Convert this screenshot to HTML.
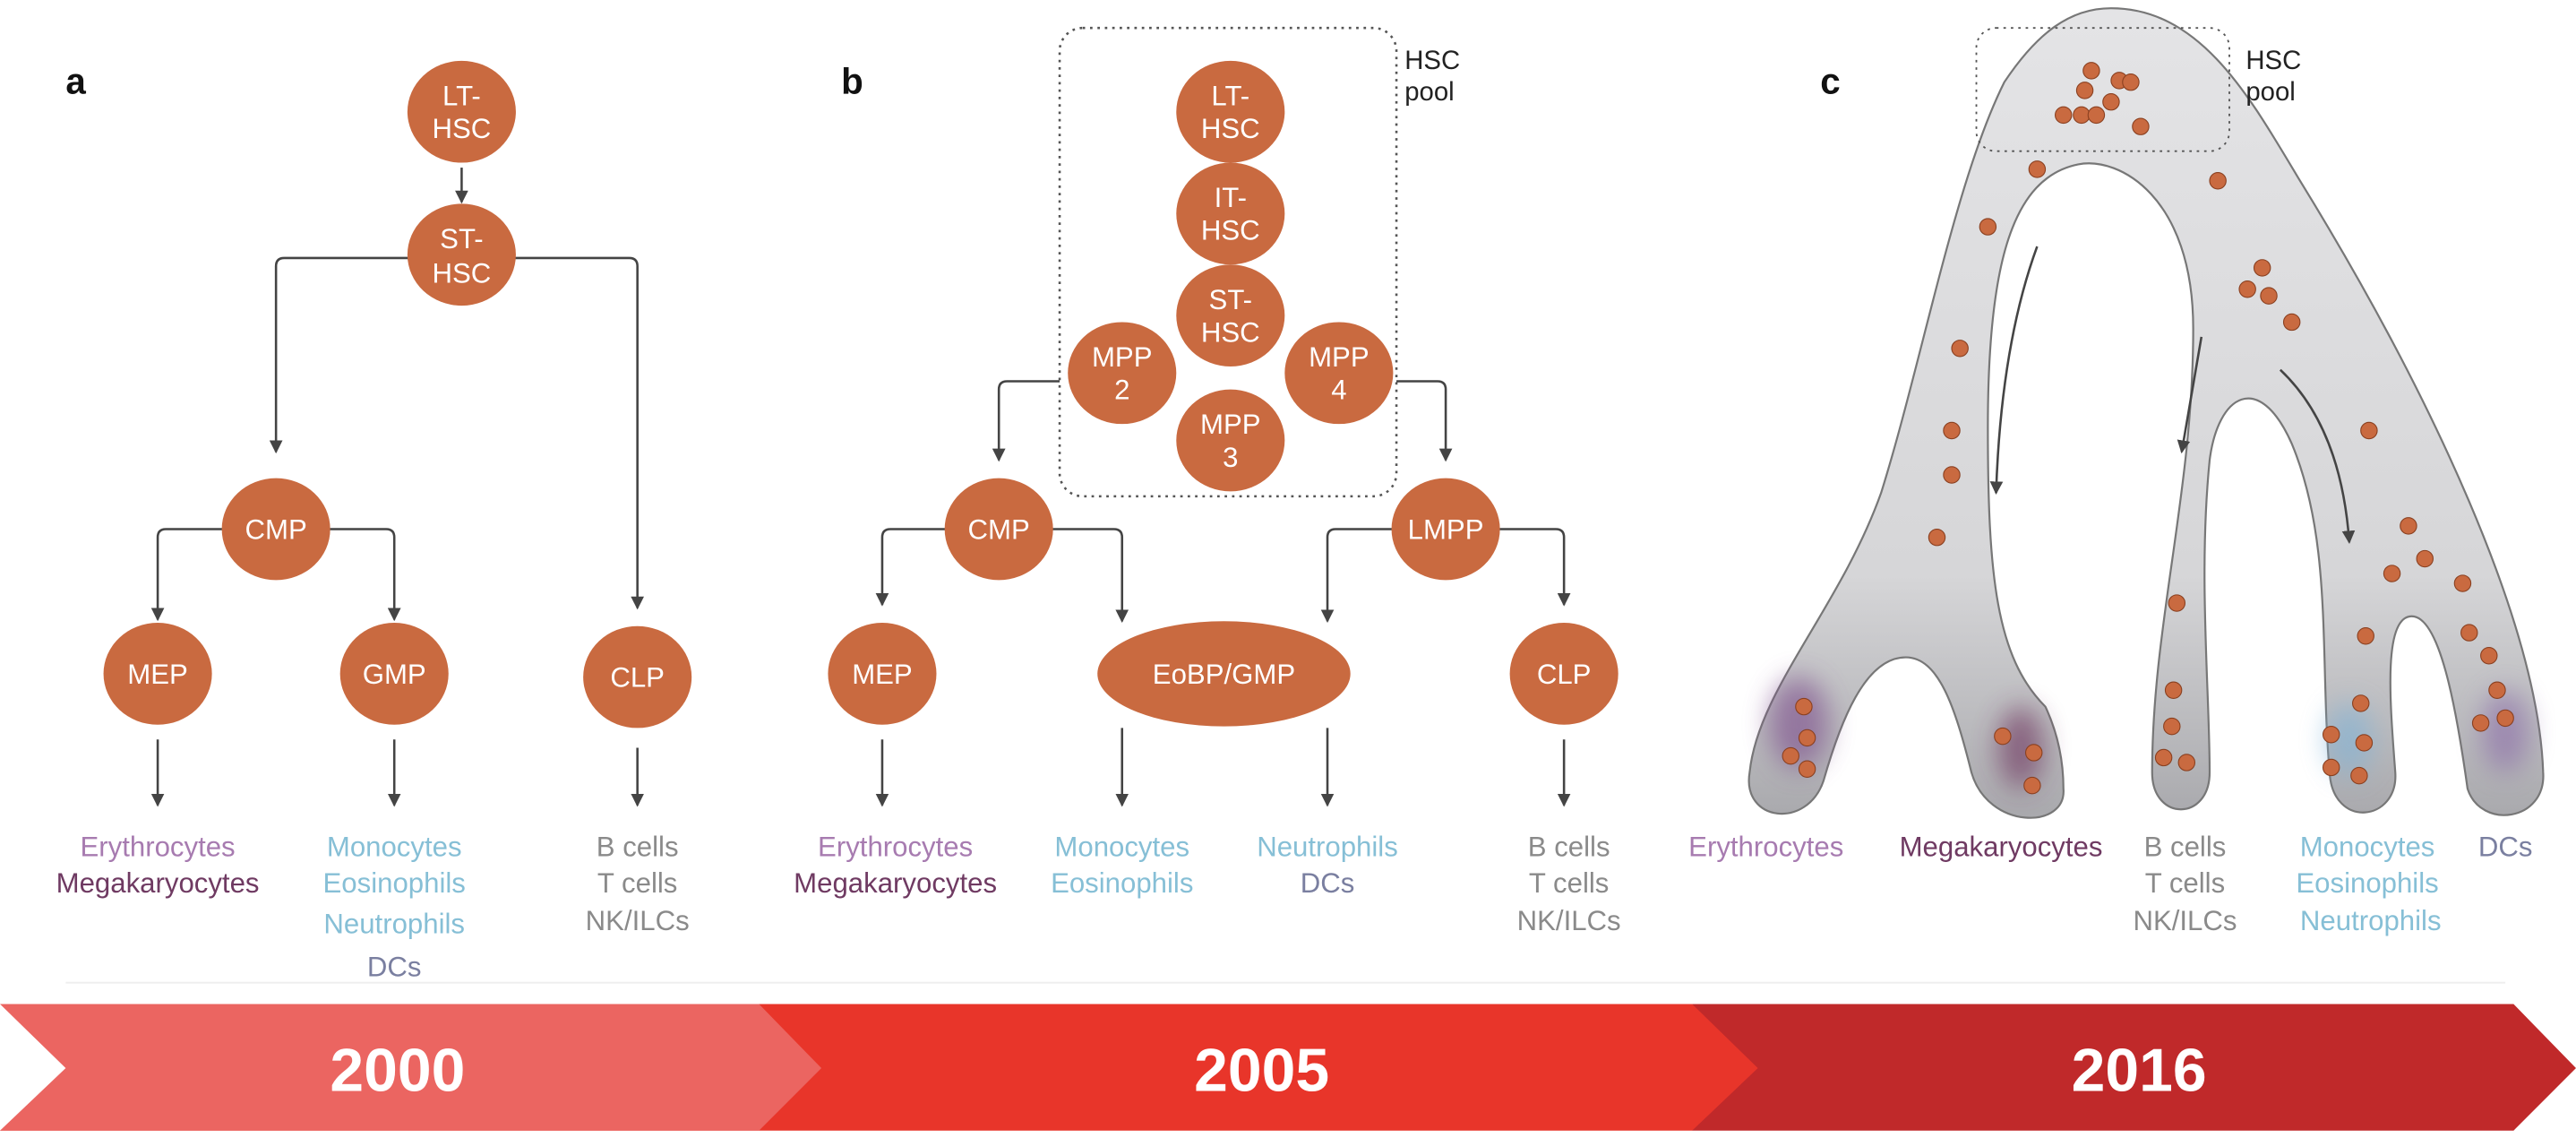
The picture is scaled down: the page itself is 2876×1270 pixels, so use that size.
<!DOCTYPE html>
<html><head><meta charset="utf-8"><style>
html,body{margin:0;padding:0;background:#fff;}
svg{display:block;}
text{font-family:"Liberation Sans",sans-serif;}
</style></head><body>
<svg width="2876" height="1270" viewBox="0 0 1568 692.5" preserveAspectRatio="none" xmlns="http://www.w3.org/2000/svg">
<defs>
<marker id="ah" markerWidth="8" markerHeight="8" refX="7" refY="4" orient="auto" markerUnits="userSpaceOnUse"><path d="M0,0 L8,4 L0,8 Z" fill="#444"/></marker>
<filter id="blur" x="-50%" y="-50%" width="200%" height="200%"><feGaussianBlur stdDeviation="8"/></filter>
<linearGradient id="tg" x1="0" y1="0" x2="0" y2="1"><stop offset="0" stop-color="#e4e4e6"/><stop offset="0.7" stop-color="#d6d6d8"/><stop offset="1" stop-color="#a9a9ad"/></linearGradient>
</defs>
<rect width="1568" height="692.5" fill="#fff"/>
<line x1="40" y1="598" x2="1525" y2="598" stroke="#eee" stroke-width="1"/>

<g fill="none" stroke="#444" stroke-width="1.4">
<line x1="281" y1="102" x2="281" y2="123" marker-end="url(#ah)"/>
<path d="M250,157 H173 Q168,157 168,162 V275" marker-end="url(#ah)"/>
<path d="M312,157 H383 Q388,157 388,162 V370" marker-end="url(#ah)"/>
<path d="M138,322 H101 Q96,322 96,327 V377" marker-end="url(#ah)"/>
<path d="M198,322 H235 Q240,322 240,327 V377" marker-end="url(#ah)"/>
<line x1="96" y1="450" x2="96" y2="490" marker-end="url(#ah)"/>
<line x1="240" y1="450" x2="240" y2="490" marker-end="url(#ah)"/>
<line x1="388" y1="455" x2="388" y2="490" marker-end="url(#ah)"/>
</g>
<g fill="#c96a40">
<ellipse cx="281" cy="68" rx="33" ry="31"/>
<ellipse cx="281" cy="155" rx="33" ry="31"/>
<ellipse cx="168" cy="322" rx="33" ry="31"/>
<ellipse cx="96" cy="410" rx="33" ry="31"/>
<ellipse cx="240" cy="410" rx="33" ry="31"/>
<ellipse cx="388" cy="412" rx="33" ry="31"/>
</g>
<g fill="#fff" font-size="17" text-anchor="middle">
<text x="281" y="64">LT-</text><text x="281" y="84">HSC</text>
<text x="281" y="151">ST-</text><text x="281" y="172">HSC</text>
<text x="168" y="328">CMP</text><text x="96" y="416">MEP</text>
<text x="240" y="416">GMP</text><text x="388" y="418">CLP</text>
</g>
<text x="40" y="57" font-size="22" font-weight="bold" fill="#111">a</text>
<g font-size="17" text-anchor="middle">
<text x="96" y="521" fill="#a77bb0">Erythrocytes</text>
<text x="96" y="543" fill="#6f3a62">Megakaryocytes</text>
<text x="240" y="521" fill="#86bfd6">Monocytes</text>
<text x="240" y="543" fill="#86bfd6">Eosinophils</text>
<text x="240" y="568" fill="#86bfd6">Neutrophils</text>
<text x="240" y="594" fill="#7a7fa0">DCs</text>
<text x="388" y="521" fill="#8a8a8a">B cells</text>
<text x="388" y="543" fill="#8a8a8a">T cells</text>
<text x="388" y="566" fill="#8a8a8a">NK/ILCs</text>
</g>

<g fill="none" stroke="#444" stroke-width="1.4">
<rect x="645" y="17" width="205" height="285" rx="14" stroke="#555" stroke-dasharray="1.5,3"/>
<path d="M645,232 H613 Q608,232 608,237 V280" marker-end="url(#ah)"/>
<path d="M850,232 H875 Q880,232 880,237 V280" marker-end="url(#ah)"/>
<path d="M578,322 H542 Q537,322 537,327 V368" marker-end="url(#ah)"/>
<path d="M638,322 H678 Q683,322 683,327 V378" marker-end="url(#ah)"/>
<path d="M850,322 H813 Q808,322 808,327 V378" marker-end="url(#ah)"/>
<path d="M910,322 H947 Q952,322 952,327 V368" marker-end="url(#ah)"/>
<line x1="537" y1="450" x2="537" y2="490" marker-end="url(#ah)"/>
<line x1="683" y1="443" x2="683" y2="490" marker-end="url(#ah)"/>
<line x1="808" y1="443" x2="808" y2="490" marker-end="url(#ah)"/>
<line x1="952" y1="450" x2="952" y2="490" marker-end="url(#ah)"/>
</g>
<g fill="#c96a40">
<ellipse cx="749" cy="68" rx="33" ry="31"/>
<ellipse cx="749" cy="130" rx="33" ry="31"/>
<ellipse cx="749" cy="192" rx="33" ry="31"/>
<ellipse cx="683" cy="227" rx="33" ry="31"/>
<ellipse cx="815" cy="227" rx="33" ry="31"/>
<ellipse cx="749" cy="268" rx="33" ry="31"/>
<ellipse cx="608" cy="322" rx="33" ry="31"/>
<ellipse cx="880" cy="322" rx="33" ry="31"/>
<ellipse cx="537" cy="410" rx="33" ry="31"/>
<ellipse cx="745" cy="410" rx="77" ry="32"/>
<ellipse cx="952" cy="410" rx="33" ry="31"/>
</g>
<g fill="#fff" font-size="17" text-anchor="middle">
<text x="749" y="64">LT-</text><text x="749" y="84">HSC</text>
<text x="749" y="126">IT-</text><text x="749" y="146">HSC</text>
<text x="749" y="188">ST-</text><text x="749" y="208">HSC</text>
<text x="683" y="223">MPP</text><text x="683" y="243">2</text>
<text x="815" y="223">MPP</text><text x="815" y="243">4</text>
<text x="749" y="264">MPP</text><text x="749" y="284">3</text>
<text x="608" y="328">CMP</text><text x="880" y="328">LMPP</text>
<text x="537" y="416">MEP</text><text x="745" y="416">EoBP/GMP</text><text x="952" y="416">CLP</text>
</g>
<text x="512" y="57" font-size="22" font-weight="bold" fill="#111">b</text>
<text x="855" y="42" font-size="16" fill="#222">HSC</text>
<text x="855" y="61" font-size="16" fill="#222">pool</text>
<g font-size="17" text-anchor="middle">
<text x="545" y="521" fill="#a77bb0">Erythrocytes</text>
<text x="545" y="543" fill="#6f3a62">Megakaryocytes</text>
<text x="683" y="521" fill="#86bfd6">Monocytes</text>
<text x="683" y="543" fill="#86bfd6">Eosinophils</text>
<text x="808" y="521" fill="#86bfd6">Neutrophils</text>
<text x="808" y="543" fill="#7a7fa0">DCs</text>
<text x="955" y="521" fill="#8a8a8a">B cells</text>
<text x="955" y="543" fill="#8a8a8a">T cells</text>
<text x="955" y="566" fill="#8a8a8a">NK/ILCs</text>
</g>

<g>
<path fill="url(#tg)" stroke="#777" stroke-width="1.2" d="M1285,5 C1340,5 1370,60 1400,110 C1480,240 1545,380 1548,470 C1550,500 1510,505 1502,480 C1495,430 1485,375 1468,375 C1450,375 1455,430 1458,470 C1460,500 1420,505 1418,470 C1412,400 1420,330 1395,270 C1375,225 1350,240 1345,280 C1338,350 1345,420 1345,470 C1345,500 1310,500 1310,470 C1310,380 1335,300 1335,200 C1335,120 1290,95 1265,100 C1225,108 1210,160 1210,260 C1210,350 1215,400 1245,430 C1252,445 1256,462 1256,480 C1258,505 1210,505 1200,470 C1190,430 1180,400 1160,400 C1135,400 1120,440 1110,475 C1100,505 1060,500 1065,470 C1070,420 1120,370 1145,300 C1170,220 1190,110 1220,50 C1240,20 1260,5 1285,5 Z"/>
<g filter="url(#blur)" opacity="0.6">
<ellipse cx="1095" cy="440" rx="18" ry="28" fill="#7a4a8a"/>
<ellipse cx="1230" cy="455" rx="14" ry="25" fill="#6a2f5a"/>
<ellipse cx="1430" cy="450" rx="14" ry="22" fill="#7fb3d8"/>
<ellipse cx="1525" cy="445" rx="14" ry="25" fill="#8a6aa8"/>
</g>
<rect x="1203" y="17" width="154" height="75" rx="12" fill="none" stroke="#555" stroke-dasharray="1.5,3"/>
<g fill="none" stroke="#444" stroke-width="1.4">
<path d="M1240,150 Q1218,210 1215,300" marker-end="url(#ah)"/>
<path d="M1340,205 L1328,275" marker-end="url(#ah)"/>
<path d="M1388,225 Q1425,260 1430,330" marker-end="url(#ah)"/>
</g>
<g fill="#c96a40" stroke="#8a4020" stroke-width="0.6">
<circle cx="1273" cy="43" r="5"/><circle cx="1290" cy="49" r="5"/><circle cx="1297" cy="50" r="5"/><circle cx="1269" cy="55" r="5"/><circle cx="1285" cy="62" r="5"/><circle cx="1256" cy="70" r="5"/><circle cx="1267" cy="70" r="5"/><circle cx="1276" cy="70" r="5"/><circle cx="1303" cy="77" r="5"/>
<circle cx="1240" cy="103" r="5"/><circle cx="1210" cy="138" r="5"/><circle cx="1193" cy="212" r="5"/><circle cx="1188" cy="262" r="5"/><circle cx="1188" cy="289" r="5"/><circle cx="1179" cy="327" r="5"/>
<circle cx="1350" cy="110" r="5"/><circle cx="1377" cy="163" r="5"/><circle cx="1368" cy="176" r="5"/><circle cx="1381" cy="180" r="5"/><circle cx="1395" cy="196" r="5"/><circle cx="1442" cy="262" r="5"/>
<circle cx="1466" cy="320" r="5"/><circle cx="1456" cy="349" r="5"/><circle cx="1476" cy="340" r="5"/><circle cx="1499" cy="355" r="5"/><circle cx="1440" cy="387" r="5"/><circle cx="1503" cy="385" r="5"/><circle cx="1515" cy="399" r="5"/><circle cx="1520" cy="420" r="5"/><circle cx="1525" cy="437" r="5"/><circle cx="1510" cy="440" r="5"/>
<circle cx="1325" cy="367" r="5"/><circle cx="1323" cy="420" r="5"/><circle cx="1322" cy="442" r="5"/><circle cx="1317" cy="461" r="5"/><circle cx="1331" cy="464" r="5"/>
<circle cx="1098" cy="430" r="5"/><circle cx="1100" cy="449" r="5"/><circle cx="1090" cy="460" r="5"/><circle cx="1100" cy="468" r="5"/>
<circle cx="1219" cy="448" r="5"/><circle cx="1238" cy="458" r="5"/><circle cx="1237" cy="478" r="5"/>
<circle cx="1437" cy="428" r="5"/><circle cx="1419" cy="447" r="5"/><circle cx="1439" cy="452" r="5"/><circle cx="1419" cy="467" r="5"/><circle cx="1436" cy="472" r="5"/>
</g>
<text x="1108" y="57" font-size="22" font-weight="bold" fill="#111">c</text>
<text x="1367" y="42" font-size="16" fill="#222">HSC</text>
<text x="1367" y="61" font-size="16" fill="#222">pool</text>
<g font-size="17" text-anchor="middle">
<text x="1075" y="521" fill="#a77bb0">Erythrocytes</text>
<text x="1218" y="521" fill="#6f3a62">Megakaryocytes</text>
<text x="1330" y="521" fill="#8a8a8a">B cells</text>
<text x="1330" y="543" fill="#8a8a8a">T cells</text>
<text x="1330" y="566" fill="#8a8a8a">NK/ILCs</text>
<text x="1441" y="521" fill="#86bfd6">Monocytes</text>
<text x="1441" y="543" fill="#86bfd6">Eosinophils</text>
<text x="1443" y="566" fill="#86bfd6">Neutrophils</text>
<text x="1525" y="521" fill="#7a7fa0">DCs</text>
</g>
</g>

<g>
<polygon points="1030,611 1530,611 1568,650 1530,688 1030,688" fill="#c0292a"/>
<polygon points="0,611 1030,611 1070,650 1030,688 0,688" fill="#e8352a"/>
<polygon points="0,611 462,611 500,650 462,688 0,688" fill="#eb6561"/>
<polygon points="0,611 40,650 0,688" fill="#fff"/>
<g fill="#fff" font-size="37" font-weight="bold" text-anchor="middle">
<text x="242" y="664">2000</text>
<text x="768" y="664">2005</text>
<text x="1302" y="664">2016</text>
</g>
</g>
</svg>
</body></html>
